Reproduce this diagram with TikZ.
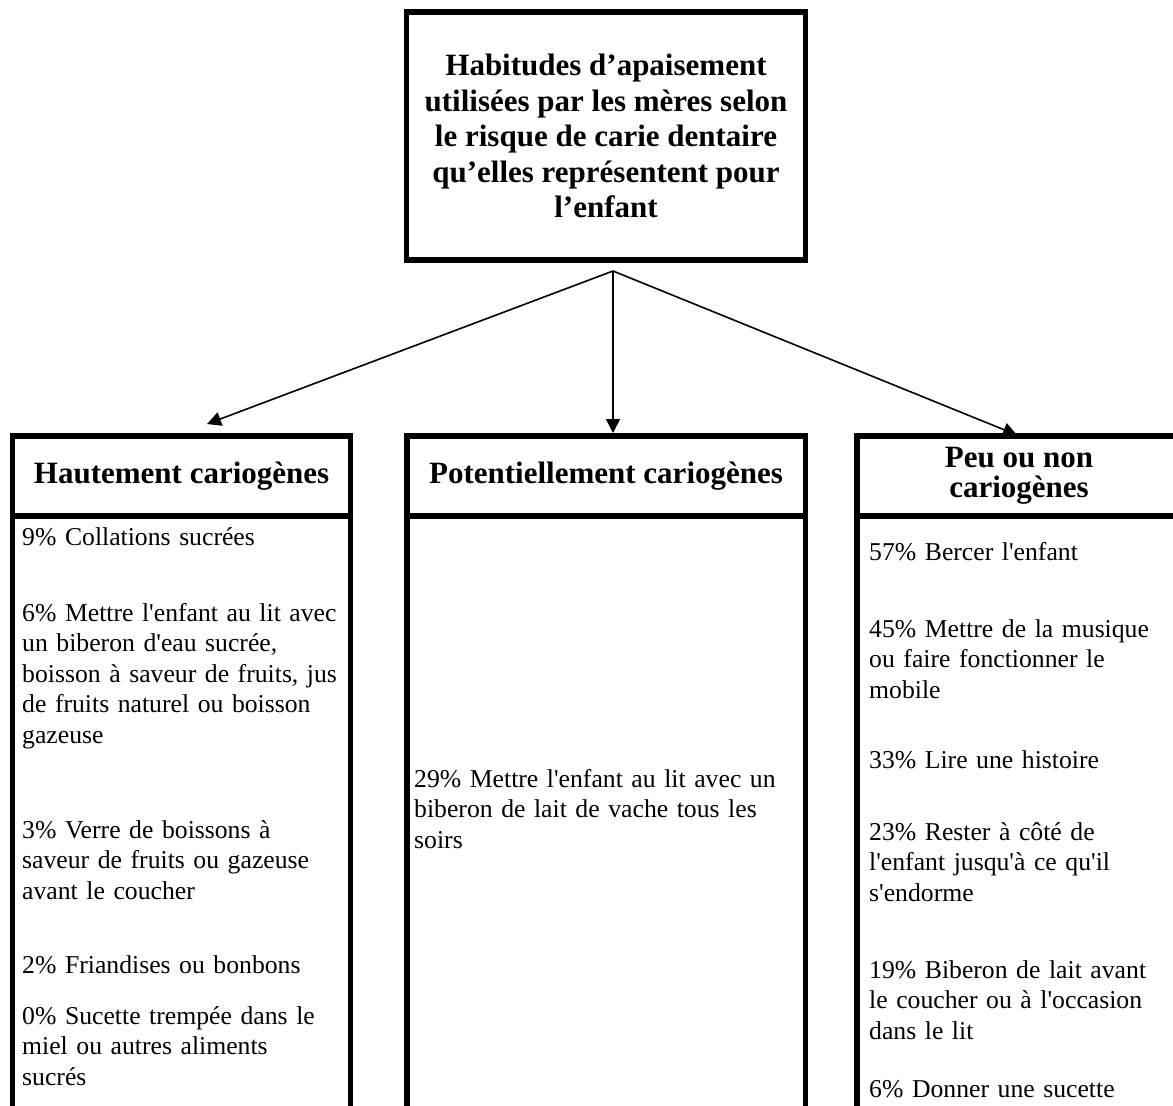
\documentclass[tikz,border=0pt]{standalone}
\usepackage{fontspec}
\setmainfont{Liberation Serif}[Ligatures=TeXOff]
\usetikzlibrary{arrows.meta, positioning}
\tikzstyle{fTitle} = [rectangle, draw=black, line width=5.5pt, outer sep=0pt, minimum width=398.75pt, minimum height=248pt, align=center, font=\fontsize{31}{35.5}\selectfont\bfseries]
\tikzstyle{fHeader} = [rectangle, draw=black, line width=5.5pt, outer sep=0pt, inner sep=2pt, minimum height=80pt, align=center, font=\fontsize{31}{30}\selectfont\bfseries]
\tikzstyle{fColumn} = [rectangle, draw=black, line width=5.5pt, outer sep=0pt, minimum height=640pt]
\tikzstyle{fItem} = [anchor=base west, inner sep=0pt, text width=345pt, align=left, font=\fontsize{25.7}{30.5}\selectfont]
\tikzstyle{fArrow} = [line width=1.6pt, -{Triangle[length=14pt, width=14pt]}]

\begin{document}
\begin{tikzpicture}[x=1pt, y=-1pt]
    \useasboundingbox (0,0) rectangle (1173,1106);
    \clip (0,0) rectangle (1173,1106);

    \node (habitudes) [fTitle] at (606,136) {Habitudes d’apaisement\\utilisées par les mères selon\\le risque de carie dentaire\\qu’elles représentent pour\\l’enfant};
    \coordinate (hub) at (613,271);

    \node (hautement) [fHeader, minimum width=337.75pt] at (181.6,476) {Hautement cariogènes};
    \node (potentiellement) [fHeader, minimum width=398.5pt] at (606,476) {Potentiellement cariogènes};
    \node (peuounon) [fHeader, minimum width=324pt] at (1019,476) {Peu ou non\\cariogènes};
    \node (hautementcol) [fColumn, minimum width=337.75pt, below=0pt of hautement] {};
    \node (potentiellementcol) [fColumn, minimum width=398.5pt, below=0pt of potentiellement] {};
    \node (peuounoncol) [fColumn, minimum width=324pt, below=0pt of peuounon] {};

    \node (collations) [fItem] at (22,545) {9\% Collations sucrées};
    \node (biberoneau) [fItem] at (22,621) {6\% Mettre l'enfant au lit avec\\un biberon d'eau sucrée,\\boisson à saveur de fruits, jus\\de fruits naturel ou boisson\\gazeuse};
    \node (verreboissons) [fItem] at (22,838) {3\% Verre de boissons à\\saveur de fruits ou gazeuse\\avant le coucher};
    \node (friandises) [fItem] at (22,973) {2\% Friandises ou bonbons};
    \node (sucettemiel) [fItem] at (22,1024) {0\% Sucette trempée dans le\\miel ou autres aliments\\sucrés};

    \node (biberonlait) [fItem, text width=390pt] at (414,787) {29\% Mettre l'enfant au lit avec un\\biberon de lait de vache tous les\\soirs};

    \node (bercer) [fItem] at (869,560) {57\% Bercer l'enfant};
    \node (musique) [fItem] at (869,637) {45\% Mettre de la musique\\ou faire fonctionner le\\mobile};
    \node (histoire) [fItem] at (869,768) {33\% Lire une histoire};
    \node (rester) [fItem] at (869,840) {23\% Rester à côté de\\l'enfant jusqu'à ce qu'il\\s'endorme};
    \node (biberonavant) [fItem] at (869,978) {19\% Biberon de lait avant\\le coucher ou à l'occasion\\dans le lit};
    \node (sucette) [fItem] at (869,1097) {6\% Donner une sucette};

    \draw [fArrow] (hub) -- ([xshift=25.4pt, yshift=12pt]hautement.north);
    \draw [fArrow] (hub) -- ([xshift=7pt, yshift=3pt]potentiellement.north);
    \draw [fArrow] (hub) -- ([xshift=-2pt, yshift=1pt]peuounon.north);
\end{tikzpicture}
\end{document}
